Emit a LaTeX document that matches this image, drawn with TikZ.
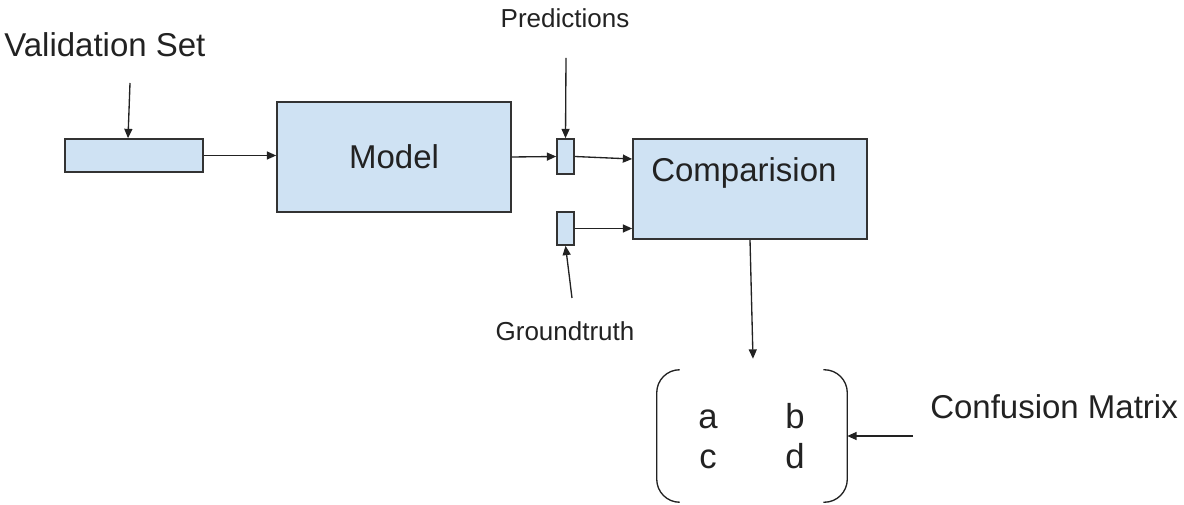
\documentclass[tikz,border=0pt]{standalone}
\usepackage{fontspec}
\setmainfont{Liberation Sans}
\usetikzlibrary{arrows.meta,calc}
\definecolor{boxfill}{HTML}{CFE2F3}
\definecolor{boxline}{HTML}{333333}
\definecolor{ink}{HTML}{222222}

\begin{document}
\begin{tikzpicture}[x=0.75pt,y=-0.75pt,
  block/.style={draw=boxline, fill=boxfill, line width=1.2pt, inner sep=0pt},
  conn/.style={draw=ink, line width=1pt, -{Triangle[length=7pt,width=6pt]}},
  bigtext/.style={font=\fontsize{24.75pt}{28pt}\selectfont, text=ink, inner sep=0pt},
  smalltext/.style={font=\fontsize{19.5pt}{22pt}\selectfont, text=ink, inner sep=0pt},
  celltext/.style={font=\fontsize{26pt}{30pt}\selectfont, text=ink, inner sep=0pt},
  bracket/.style={draw=ink, line width=1pt, rounded corners=17.25pt},
  ]
\useasboundingbox (0,0) rectangle (1184,505);

% blocks
\node[block, minimum width=103.5pt, minimum height=24.75pt] (vset) at (134,155.5) {};
\node[block, bigtext, minimum width=175.5pt, minimum height=82.5pt] (model) at (394,157) {Model};
\node[block, minimum width=12.75pt, minimum height=26.25pt] (pred) at (565.5,156.5) {};
\node[block, minimum width=12.75pt, minimum height=24.75pt] (gt) at (565.5,228.5) {};
\node[block, minimum width=175.5pt, minimum height=75pt] (comp) at (750,189) {};
\node[bigtext, anchor=base west] (comptext) at (651,182) {Comparision};

% labels
\node[bigtext, anchor=base west] (vlabel) at (4,57) {Validation Set};
\node[smalltext, anchor=base] (plabel) at (565,28) {Predictions};
\node[smalltext, anchor=base] (glabel) at (565,341) {Groundtruth};
\node[bigtext, anchor=base west] (clabel) at (930,418) {Confusion Matrix};

% confusion matrix
\node[minimum width=142.5pt, minimum height=99pt, inner sep=0pt] (cm) at (752,436) {};
\draw[bracket] ($(cm.north west)+(23,0)$) -- (cm.north west) -- (cm.south west) -- ($(cm.south west)+(23,0)$);
\draw[bracket] ($(cm.north east)+(-24,0)$) -- (cm.north east) -- (cm.south east) -- ($(cm.south east)+(-24,0)$);
\node[celltext, anchor=base] (ca) at (708,429) {a};
\node[celltext, anchor=base] (cb) at (795,429) {b};
\node[celltext, anchor=base] (cc) at (708,468) {c};
\node[celltext, anchor=base] (cd) at (795,468) {d};

% connector ends
\coordinate (vsrc) at (130,83);
\coordinate (psrc) at (566,58);
\coordinate (gsrc) at (572,298);
\coordinate (csrc) at (913,436);

% connectors
\draw[conn] (vsrc) -- ($(vset.north)+(-6,0)$);
\draw[conn] (vset.east) -- (vset.east -| model.west);
\draw[conn] (model.east) -- (pred.west);
\draw[conn] (psrc) -- (pred.north);
\draw[conn] (pred.east) -- ($(comp.west)+(0,-30)$);
\draw[conn] (gt.east) -- (gt.east -| comp.west);
\draw[conn] (gsrc) -- (gt.south);
\draw[conn] (comp.south) -- ($(cm.north)+(1,-11)$);
\draw[conn] (csrc) -- (cm.east);
\end{tikzpicture}
\end{document}
